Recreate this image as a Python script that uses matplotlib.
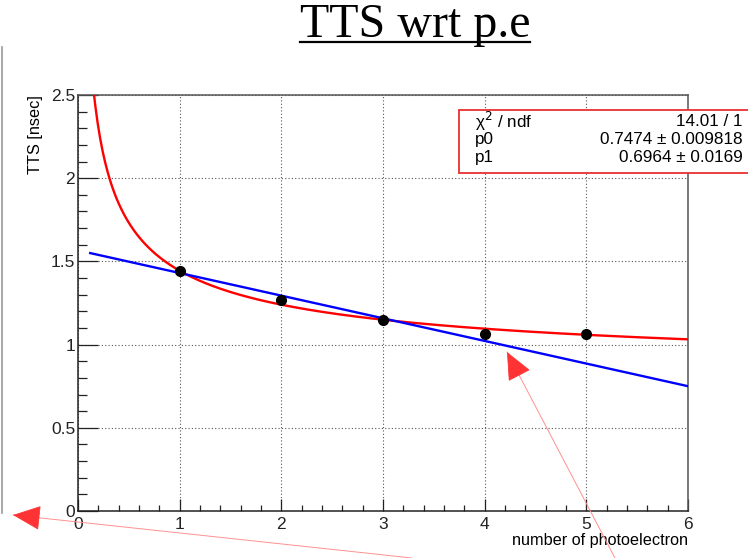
import numpy as np
import matplotlib.pyplot as plt
from matplotlib.patches import Rectangle
from matplotlib.lines import Line2D
from matplotlib.ticker import MultipleLocator, FuncFormatter

plt.rcParams['font.family'] = ['Liberation Sans', 'DejaVu Sans']

# measured TTS per number of photoelectrons
n_pe = [1, 2, 3, 4, 5]
tts = [1.442, 1.268, 1.148, 1.064, 1.064]

# fit result p0 + p1/sqrt(x)
p0, p0_err = 0.7474, 0.009818
p1, p1_err = 0.6964, 0.0169
chi2, ndf = 14.01, 1

# straight line across the range
line_x = [0.12, 6.0]
line_y = [1.55, 0.75]

W, H = 748, 558
fig = plt.figure(figsize=(W / 100, H / 100), dpi=100)
ax = fig.add_axes([78 / W, 1 - 511 / H, 610 / W, 416 / H])

fx = np.linspace(0.1, 6, 500)
ax.plot(fx, p0 + p1 / np.sqrt(fx), color='#ff0000', lw=1.7, zorder=3)
ax.plot(line_x, line_y, color='#0000ff', lw=1.7, zorder=4)
ax.plot(n_pe, tts, 'o', color='black', ms=7, zorder=5)

ax.set_xlim(0, 6)
ax.set_ylim(0, 2.5)
ax.xaxis.set_major_locator(MultipleLocator(1))
ax.xaxis.set_minor_locator(MultipleLocator(0.2))
ax.yaxis.set_major_locator(MultipleLocator(0.5))
ax.yaxis.set_minor_locator(MultipleLocator(0.1))
ax.yaxis.set_major_formatter(FuncFormatter(lambda v, p: '%g' % v))
ax.grid(True, which='major', color='#555555', lw=0.8, linestyle=(0, (1, 2)))

ax.tick_params(which='both', direction='in', width=0.9, color='#222222',
               labelsize=12.5, labelcolor='#222222')
ax.tick_params(axis='y', which='major', length=14.4, pad=2)
ax.tick_params(axis='y', which='minor', length=6.5)
ax.tick_params(axis='x', which='major', length=8.6, pad=4)
ax.tick_params(axis='x', which='minor', length=4)
for s in ax.spines.values():
    s.set_color('#555555')
    s.set_linewidth(1.1)
ax.spines['left'].set_color('#222222')
ax.spines['bottom'].set_color('#222222')

ax.set_xlabel('number of photoelectron', fontsize=11.7, loc='right', labelpad=1)
ax.set_ylabel('TTS [nsec]', fontsize=11.7, loc='top', labelpad=6)

# stats box
fig.add_artist(Rectangle((459 / W, 1 - 173 / H), 320 / W, 63 / H,
                         transform=fig.transFigure, fc='white',
                         ec='#e83030', lw=1.3, zorder=5))
rows = [('χ$^2$ / ndf', '%.2f / %d' % (chi2, ndf)),
        ('p0', '%.4f ± %g' % (p0, p0_err)),
        ('p1', '%.4f ± %g' % (p1, p1_err))]
for i, (name, val) in enumerate(rows):
    yy = 1 - (121 + 18.2 * i) / H
    fig.text(475 / W, yy, name, ha='left', va='center', fontsize=12.3, zorder=6)
    fig.text(743 / W, yy, val, ha='right', va='center', fontsize=12.3, zorder=6)

# underlined title
title = fig.text(415 / W, 1 - 37 / H, 'TTS wrt p.e', ha='center', va='baseline',
                 family='Liberation Serif', fontsize=34.5)
fig.canvas.draw()
bb = title.get_window_extent()
fig.add_artist(Line2D([bb.x0, bb.x1], [H - 42, H - 42], transform=None,
                      color='black', lw=1.6))

# pad edge on the left
fig.add_artist(Line2D([1.5 / W, 1.5 / W], [1 - 47 / H, 1 - 513 / H],
                      color='#999999', lw=1.2))

# red arrows: pale thin shaft, solid head
shaft = dict(arrowstyle='-', color='#ff9090', lw=0.7, shrinkA=0, shrinkB=0)
head = dict(arrowstyle='-|>,head_length=1.8,head_width=0.8', color='#ff3333',
            lw=0.6, shrinkA=0, shrinkB=0, mutation_scale=10)
for tip, tail in [((507, H - 352), (616, -2)), ((13, H - 515), (412, 0))]:
    d = np.subtract(tail, tip)
    near = np.add(tip, d / np.hypot(*d) * 26)
    ax.annotate('', xy=tip, xycoords='figure pixels', xytext=tail,
                textcoords='figure pixels', arrowprops=shaft, annotation_clip=False)
    ax.annotate('', xy=tip, xycoords='figure pixels', xytext=tuple(near),
                textcoords='figure pixels', arrowprops=head, annotation_clip=False)

fig.savefig('out.png', dpi=100)
